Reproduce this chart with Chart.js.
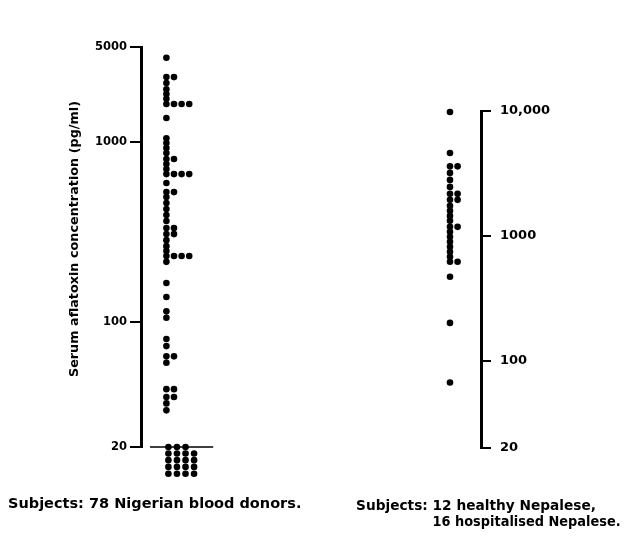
<!DOCTYPE html>
<html>
<head>
<meta charset="utf-8">
<title>Serum aflatoxin concentration</title>
<script src="https://cdn.jsdelivr.net/npm/chart.js@4.4.1/dist/chart.umd.min.js"></script>
<style>
  body { margin: 0; background: #fff; }
  canvas { display: block; }
</style>
</head>
<body>
<canvas id="chartjs-0" width="634" height="537"></canvas>
<script>
// Nigerian blood donors with a detectable level (pg/ml)
var nigeriaValues = [
    2950,
    2300, 2300, 2130, 1970, 1850, 1740,
    1630, 1630, 1630, 1630,
    1360, 1050, 987, 926, 868, 804, 804, 754, 707,
    663, 663, 663, 663,
    591, 526, 526, 494, 457, 423, 392, 363,
    332, 332, 307, 307, 284, 263, 247,
    232, 232, 232, 232,
    215, 164, 137, 114, 105, 80, 73, 64, 64, 59,
    42, 42, 38, 38, 35, 32
];
// donors under the 20 pg/ml limit, stacked below the line
var nigeriaBelowLimit = [
    20, 20, 20,
    18.4, 18.4, 18.4, 18.4,
    16.9, 16.9, 16.9, 16.9,
    15.5, 15.5, 15.5, 15.5,
    14.2, 14.2, 14.2, 14.2
];
// healthy and hospitalised Nepalese
var nepalValues = [
    9800, 4600, 3600, 3600, 3190, 2805, 2466,
    2168, 2168, 1941, 1941, 1738, 1585, 1445, 1318,
    1180, 1180, 1076, 982, 895, 817, 745, 679,
    620, 620, 470, 201, 67
];

var leftTickValues = [20, 100, 1000, 5000];
var leftTickLabels = ["20", "100", "1000", "5000"];
var rightTickValues = [20, 100, 1000, 10000];
var rightTickLabels = ["20", "100", "1000", "10,000"];

var axisTitle = "Serum aflatoxin concentration (pg/ml)";
var leftCaption = "Subjects: 78 Nigerian blood donors.";
var rightCaption = ["Subjects: ", "12 healthy Nepalese,", "16 hospitalised Nepalese."];

var LIMIT = 20;

// equal values sit side by side, to the right of the column
function spread(values, base, step) {
    var seen = {};
    return values.map(function (v) {
        var k = seen[v] || 0;
        seen[v] = k + 1;
        return { x: base + k * step, y: v };
    });
}

var FONT = "'DejaVu Sans', sans-serif";

var extras = {
    id: "extras",
    afterDraw: function (chart) {
        var c = chart.ctx;
        var area = chart.chartArea;
        var x = chart.scales.x;
        var yL = chart.scales.yL;
        var yR = chart.scales.yR;

        c.save();
        c.strokeStyle = "#000";
        c.lineCap = "butt";

        // left axis stops at the detection limit
        c.lineWidth = 3;
        c.beginPath();
        c.moveTo(area.left - 0.5, yL.getPixelForValue(LIMIT) + 1);
        c.lineTo(area.left - 0.5, area.top - 1);
        c.stroke();

        // right axis from 20 to 10,000
        c.beginPath();
        c.moveTo(area.right + 0.5, yR.getPixelForValue(20) + 1);
        c.lineTo(area.right + 0.5, yR.getPixelForValue(10000) - 1);
        c.stroke();

        // detection limit line
        c.lineWidth = 1.5;
        c.beginPath();
        c.moveTo(x.getPixelForValue(1), yL.getPixelForValue(LIMIT));
        c.lineTo(x.getPixelForValue(8.9), yL.getPixelForValue(LIMIT));
        c.stroke();

        c.fillStyle = "#000";
        c.textBaseline = "middle";

        c.save();
        c.font = "bold 12.8px " + FONT;
        c.translate(75, 239);
        c.rotate(-Math.PI / 2);
        c.textAlign = "center";
        c.fillText(axisTitle, 0, 0);
        c.restore();

        c.font = "bold 14.5px " + FONT;
        c.textAlign = "left";
        c.fillText(leftCaption, 8, 504, 294);

        // second line lines up under the "12"
        var first = rightCaption[0] + rightCaption[1];
        var squeeze = Math.min(1, 240 / c.measureText(first).width);
        c.fillText(first, 356, 506, 240);
        c.fillText(rightCaption[2], 356 + c.measureText(rightCaption[0]).width * squeeze, 522, 188);

        c.restore();
    }
};

var ctx0 = document.getElementById("chartjs-0");
var myChart = new Chart(ctx0, {
    type: "scatter",
    data: {
        datasets: [
            { data: spread(nigeriaValues, 3.05, 0.95), yAxisID: "yL" },
            { data: spread(nigeriaBelowLimit, 3.3, 1.07), yAxisID: "yL" },
            { data: spread(nepalValues, 38.5, 0.95), yAxisID: "yR" }
        ]
    },
    options: {
        responsive: false,
        animation: false,
        events: [],
        clip: false,
        layout: { padding: { top: 47, bottom: 57, left: 0, right: 0 } },
        elements: {
            point: { radius: 3.3, backgroundColor: "#000", borderWidth: 0 }
        },
        plugins: {
            legend: { display: false },
            tooltip: { enabled: false }
        },
        scales: {
            x: { type: "linear", min: 0, max: 42.375, display: false },
            yL: {
                type: "logarithmic",
                position: "left",
                min: 13.1,
                max: 3384,
                afterFit: function (scale) { scale.width = 142; },
                afterBuildTicks: function (scale) {
                    // the printed 5000 label sits at the top end of the axis
                    scale.ticks = leftTickValues.map(function (v) {
                        return { value: Math.min(v, scale.max) };
                    });
                },
                border: { display: false },
                grid: { drawOnChartArea: false, drawTicks: true, tickLength: 12, lineWidth: 2, color: "#000" },
                ticks: {
                    color: "#000",
                    padding: 3,
                    font: { family: FONT, size: 11.5, weight: "bold" },
                    callback: function (value, index) { return leftTickLabels[index]; }
                }
            },
            yR: {
                type: "logarithmic",
                position: "right",
                min: 11.1,
                max: 32500,
                afterFit: function (scale) { scale.width = 153; },
                afterBuildTicks: function (scale) {
                    scale.ticks = rightTickValues.map(function (v) { return { value: v }; });
                },
                border: { display: false },
                grid: { drawOnChartArea: false, drawTicks: true, tickLength: 10, lineWidth: 2, color: "#000" },
                ticks: {
                    color: "#000",
                    padding: 9,
                    font: { family: FONT, size: 13, weight: "bold" },
                    callback: function (value, index) { return rightTickLabels[index]; }
                }
            }
        }
    },
    plugins: [extras]
});
</script>
</body>
</html>
